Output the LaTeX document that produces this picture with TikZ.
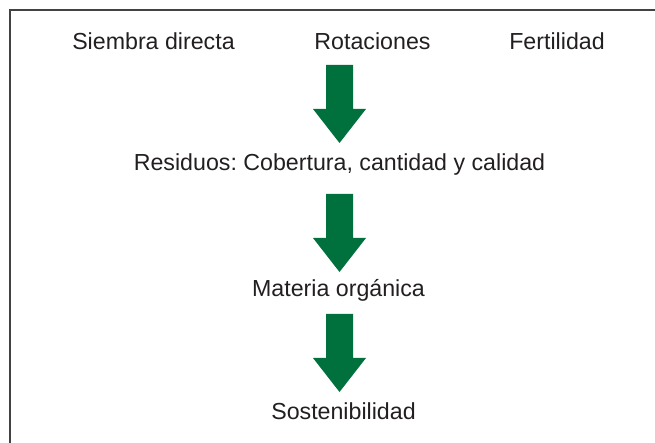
\documentclass[tikz,border=0pt]{standalone}
\usepackage{fontspec}
\setmainfont{Liberation Sans}
\frenchspacing
\definecolor{verde}{RGB}{0,112,60}
\definecolor{texto}{RGB}{35,31,32}
\tikzset{
    etiqueta/.style={anchor=base,inner sep=0pt,text=texto,font=\fontsize{23.2}{27}\selectfont},
    flecha/.style={fill=verde}
}
% block arrow hanging down from a named coordinate
\newcommand{\flechabaja}[1]{\fill[flecha] (#1) ++(-13.5,0) -- ++(27,0) -- ++(0,-44) -- ++(13,0) -- ++(-26.5,-34) -- ++(-26.5,34) -- ++(13,0) -- cycle;}
\begin{document}
\begin{tikzpicture}[x=1pt,y=1pt]
    \useasboundingbox (0,0) rectangle (655,443);
    % Frame %
    \draw[line width=1.3pt,texto!85] (10,0) -- (10,433) -- (655,433);

    % Labels %
    \node[etiqueta] (siembra) at (153.5,393) {Siembra directa};
    \node[etiqueta] (rot) at (372.5,393) {Rotaciones};
    \node[etiqueta] (fert) at (557,393) {Fertilidad};
    \node[etiqueta] (res) at (339.5,272) {Residuos: Cobertura, cantidad y calidad};
    \node[etiqueta] (mo) at (338.5,146) {Materia orgánica};
    \node[etiqueta] (sost) at (343.5,23) {Sostenibilidad};

    % Arrows %
    \coordinate (f1) at (339.5,378);
    \coordinate (f2) at (339.5,249);
    \coordinate (f3) at (339.5,129);
    \flechabaja{f1}
    \flechabaja{f2}
    \flechabaja{f3}
\end{tikzpicture}
\end{document}
